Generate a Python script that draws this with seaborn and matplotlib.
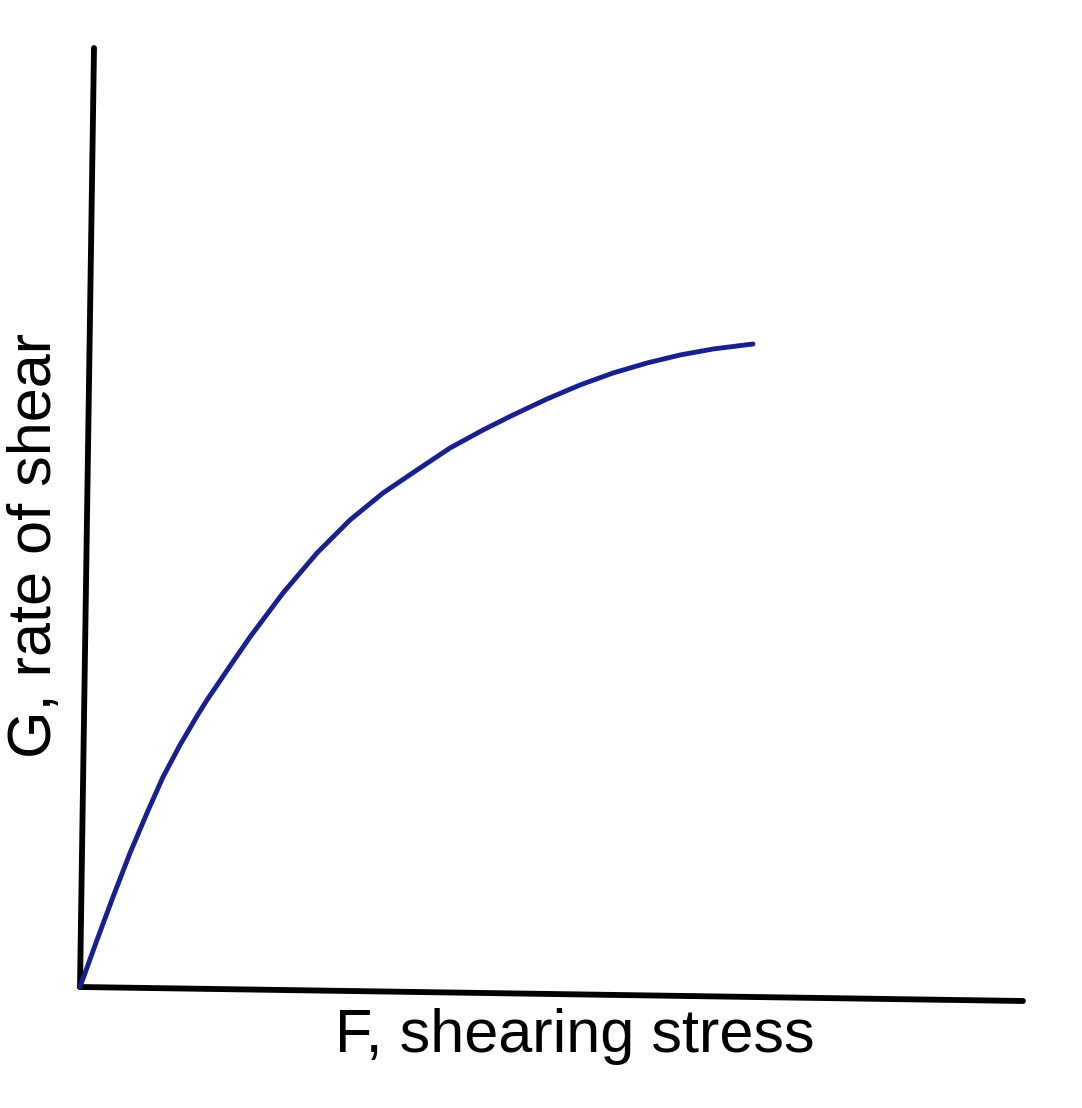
import numpy as np
import pandas as pd
import seaborn as sns
import matplotlib
matplotlib.use("Agg")
import matplotlib.pyplot as plt

# curve (arbitrary units)
stress = [0.0, 0.17, 0.33, 0.50, 0.67, 0.83, 1.00, 1.17, 1.27, 1.48, 1.70,
          2.03, 2.37, 2.70, 3.03, 3.37, 3.70, 4.03, 4.33, 4.67, 5.00, 5.33,
          5.67, 6.00, 6.33, 6.73]
rate = [0.0, 0.47, 0.90, 1.34, 1.74, 2.10, 2.42, 2.71, 2.87, 3.18, 3.50,
        3.94, 4.34, 4.67, 4.94, 5.17, 5.39, 5.57, 5.72, 5.88, 6.02, 6.14,
        6.24, 6.32, 6.38, 6.43]

# hand-drawn axis lines (slightly tilted)
y_axis_x = [0.0, 0.14]
y_axis_y = [0.0, 9.39]
x_axis_x = [0.0, 9.43]
x_axis_y = [0.0, -0.14]

xlabel = "F, shearing stress"
ylabel = "G, rate of shear"

sns.set_style("white")
plt.rcParams["font.family"] = ["Liberation Sans", "DejaVu Sans"]

df = pd.DataFrame({"stress": stress, "rate": rate})

fig = plt.figure(figsize=(10.82, 11.08), dpi=100)
ax = fig.add_axes([0, 0, 1, 1])

ax.plot(y_axis_x, y_axis_y, color="black", lw=4.2, solid_capstyle="round")
ax.plot(x_axis_x, x_axis_y, color="black", lw=4.2, solid_capstyle="round")
sns.lineplot(data=df, x="stress", y="rate", ax=ax, color="#17208c", lw=3.5,
             sort=False, estimator=None)
ax.lines[-1].set_solid_capstyle("round")
ax.lines[-1].set_solid_joinstyle("round")

ax.text(4.95, -0.65, xlabel, fontsize=44, color="black",
        ha="center", va="baseline")
ax.text(-0.44, 4.42, ylabel, fontsize=44, color="black",
        ha="center", va="center", rotation=90)

ax.set_xlim(-0.80, 10.02)
ax.set_ylim(-1.21, 9.87)
ax.axis("off")

fig.savefig("out.png", dpi=100, facecolor="white")
